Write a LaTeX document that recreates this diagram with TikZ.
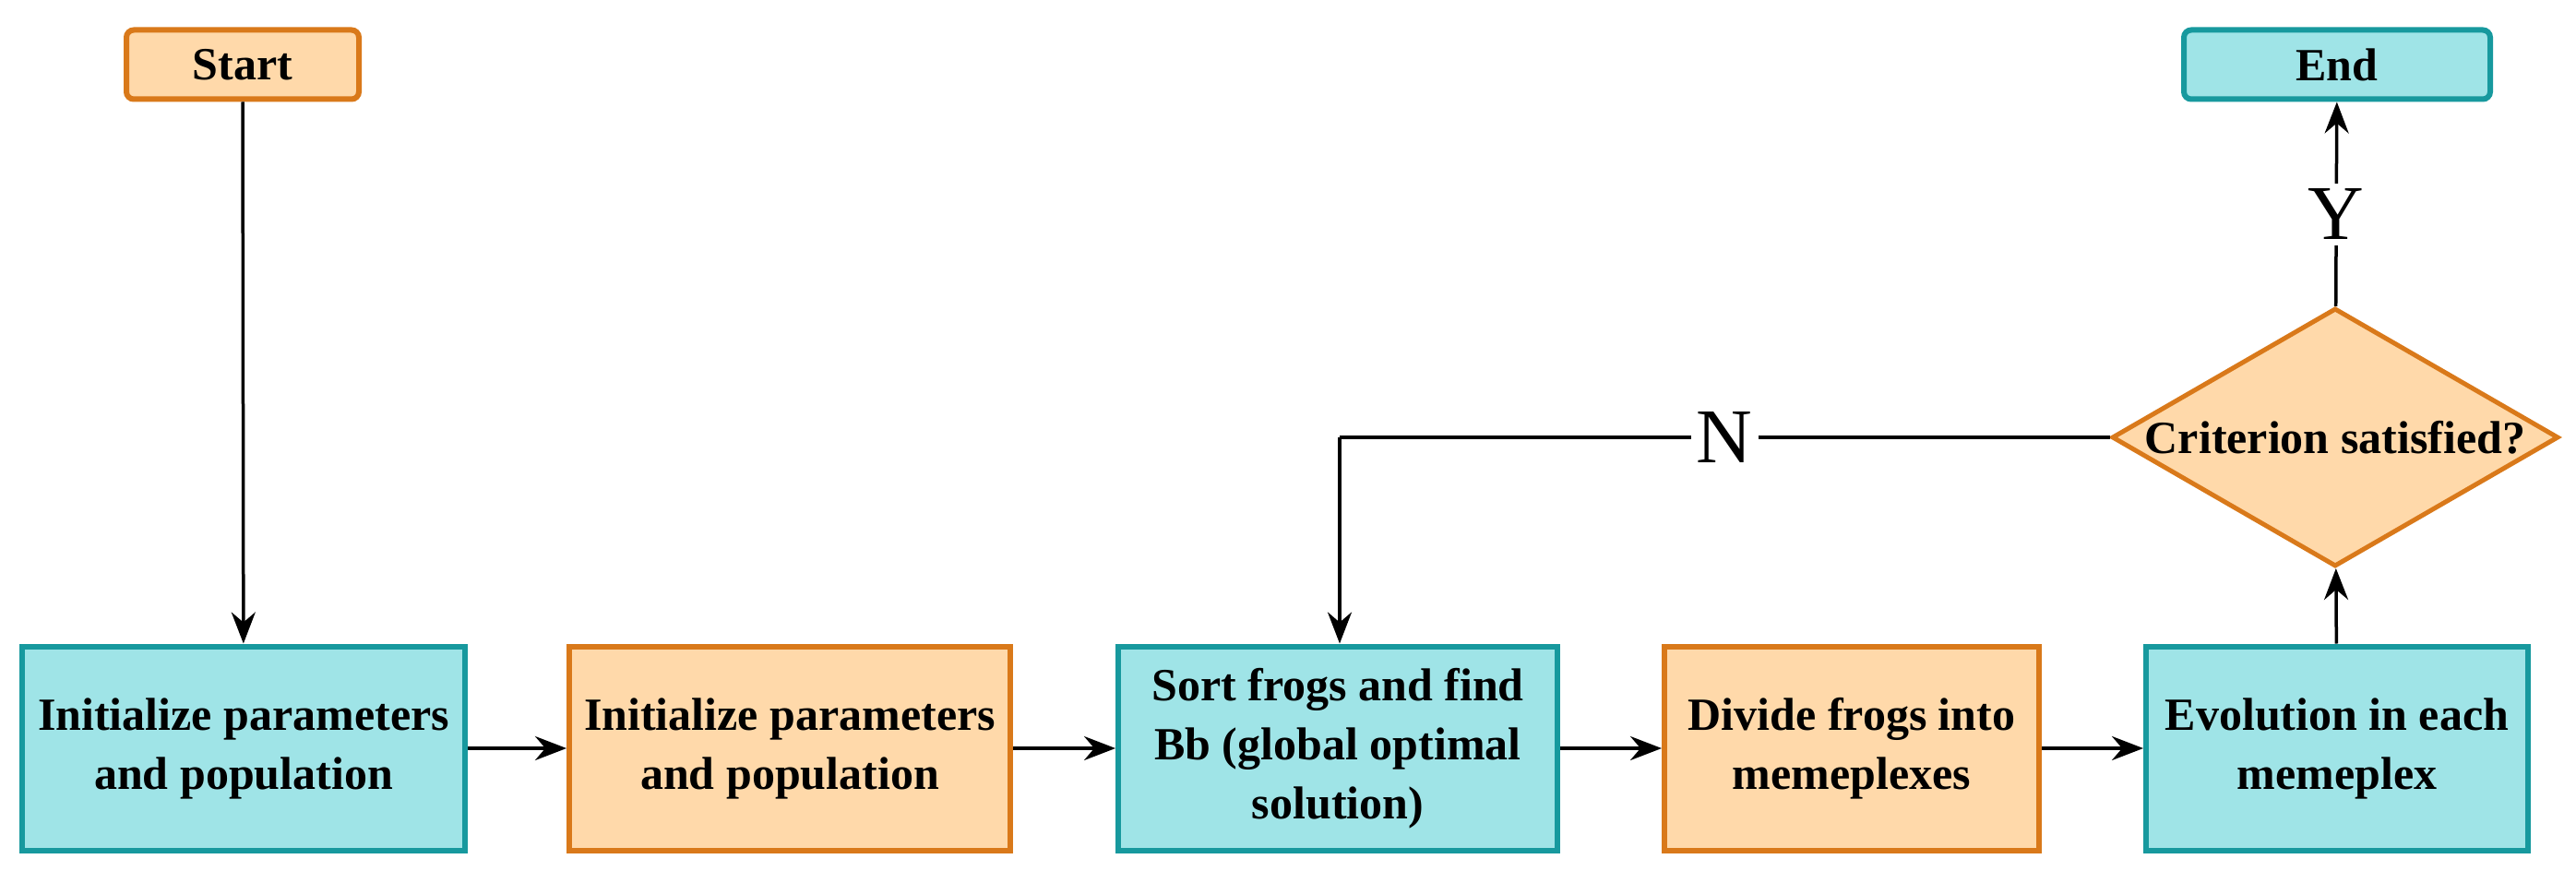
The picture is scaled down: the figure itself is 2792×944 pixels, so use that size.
\documentclass[tikz,border=0pt]{standalone}
\usepackage{fontspec}
\setmainfont{Liberation Serif}
\usetikzlibrary{shapes.geometric,arrows.meta}
\definecolor{cfill}{HTML}{9FE4E7}
\definecolor{cline}{HTML}{17999E}
\definecolor{ofill}{HTML}{FFD9AA}
\definecolor{oline}{HTML}{D9791A}
\tikzset{
 x=1pt,y=-1pt,
 txt/.style={font=\fontsize{50}{64}\selectfont\bfseries},
 box/.style={draw,line width=6pt,align=center,txt,inner sep=0pt},
 cy/.style={box,fill=cfill,draw=cline},
 or/.style={box,fill=ofill,draw=oline},
 arr/.style={line width=3.5pt,-{Stealth[length=34pt,width=26pt]}},
 lab/.style={font=\fontsize{84}{90}\selectfont,fill=white,inner sep=6pt}
}
\begin{document}
\begin{tikzpicture}
\useasboundingbox (0,0) rectangle (2792,944);
\node[or,rounded corners=8pt,minimum width=252pt,minimum height=75pt] (start) at (263,70) {Start};
\node[cy,rounded corners=8pt,minimum width=332pt,minimum height=75pt] (end) at (2533,70) {End};
\node[cy,minimum width=480pt,minimum height=221pt] (b1) at (264,811) {Initialize parameters\\and population};
\node[or,minimum width=478pt,minimum height=221pt] (b2) at (856,811) {Initialize parameters\\and population};
\node[cy,minimum width=476pt,minimum height=221pt] (b3) at (1450,811) {Sort frogs and find\\Bb (global optimal\\solution)};
\node[or,minimum width=406pt,minimum height=221pt] (b4) at (2007,811) {Divide frogs into\\memeplexes};
\node[cy,minimum width=414pt,minimum height=221pt] (b5) at (2533,811) {Evolution in each\\memeplex};
\node[diamond,draw=oline,fill=ofill,line width=5pt,minimum width=484pt,minimum height=280pt,inner sep=0pt,aspect=1.73] (d) at (2531,474) {};
\node[txt] at (d) {Criterion satisfied?};
\draw[arr] (start) -- (b1);
\draw[arr] (b1) -- (b2);
\draw[arr] (b2) -- (b3);
\draw[arr] (b3) -- (b4);
\draw[arr] (b4) -- (b5);
\draw[arr] (b5) -- (d);
\draw[arr] (d) -- node[lab,pos=0.45]{Y} (end);
\coordinate (k) at (1452,474);
\draw[line width=3.5pt] (d.west) -- node[lab,pos=0.5]{N} (k);
\draw[arr] (k) -- (b3.north -| k);
\end{tikzpicture}
\end{document}
